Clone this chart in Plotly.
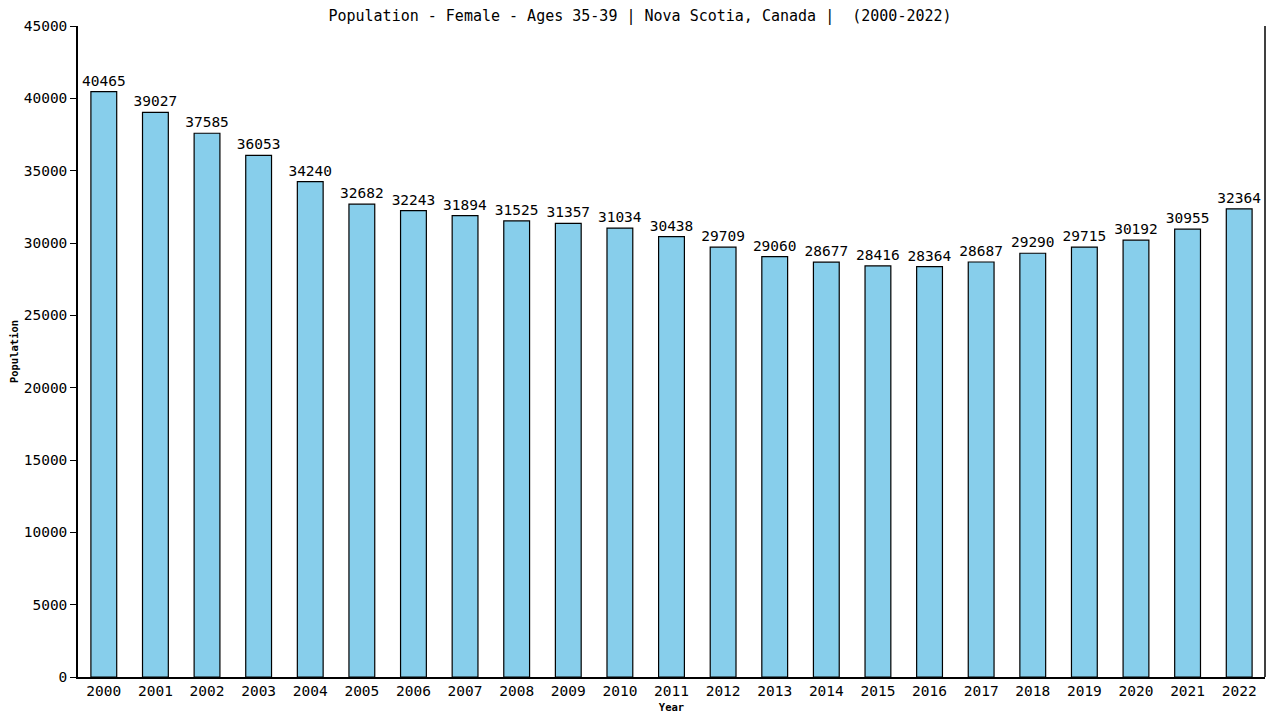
import plotly.graph_objects as go

years = [str(y) for y in range(2000, 2023)]
population = [40465, 39027, 37585, 36053, 34240, 32682, 32243, 31894, 31525, 31357,
              31034, 30438, 29709, 29060, 28677, 28416, 28364, 28687, 29290, 29715,
              30192, 30955, 32364]

title = "Population - Female - Ages 35-39 | Nova Scotia, Canada |  (2000-2022)"
font = "DejaVu Sans Mono"
fs = 14.5

W, H = 1272, 712  # page body has 8px margin

fig = go.Figure()
fig.add_trace(go.Bar(
    x=years, y=population,
    width=0.5,
    marker=dict(color="#87CEEB", line=dict(color="black", width=1.2)),
    text=[str(v) for v in population],
    textposition="outside",
    constraintext="none",
    textfont=dict(family=font, size=fs, color="black"),
    cliponaxis=False,
))

fig.update_layout(
    width=W, height=H,
    paper_bgcolor="white", plot_bgcolor="white",
    margin=dict(l=70, r=15, t=18, b=43, autoexpand=False),
    showlegend=False,
    title=dict(text=title, x=(640 - 8) / W, xanchor="center", xref="container",
               y=1 - 7.5 / H, yref="container", yanchor="middle",
               font=dict(family=font, size=15, color="black"),
               automargin=False),
    font=dict(family=font, size=fs, color="black"),
    uniformtext=dict(mode=False),
)
fig.update_xaxes(
    type="category", range=[-0.5, 22.5], automargin=False,
    showline=True, linecolor="black", linewidth=1.5, mirror=False,
    ticks="", showgrid=False,
    tickfont=dict(family=font, size=fs, color="black"),
    title=dict(text="<b>Year</b>", font=dict(family=font, size=10.5), standoff=5),
)
fig.update_yaxes(
    range=[0, 45000], dtick=5000, tickformat="d", automargin=False,
    showline=True, linecolor="black", linewidth=1.5,
    ticks="outside", ticklen=6, tickcolor="black",
    showgrid=False, zeroline=False,
    tickfont=dict(family=font, size=fs, color="black"),
    title=dict(text="<b>Population</b>", font=dict(family=font, size=10.5), standoff=9),
)
fig.add_shape(type="line", xref="paper", yref="paper", x0=1, x1=1, y0=0, y1=1,
              line=dict(color="black", width=1.5))

fig.write_html("out.html")
